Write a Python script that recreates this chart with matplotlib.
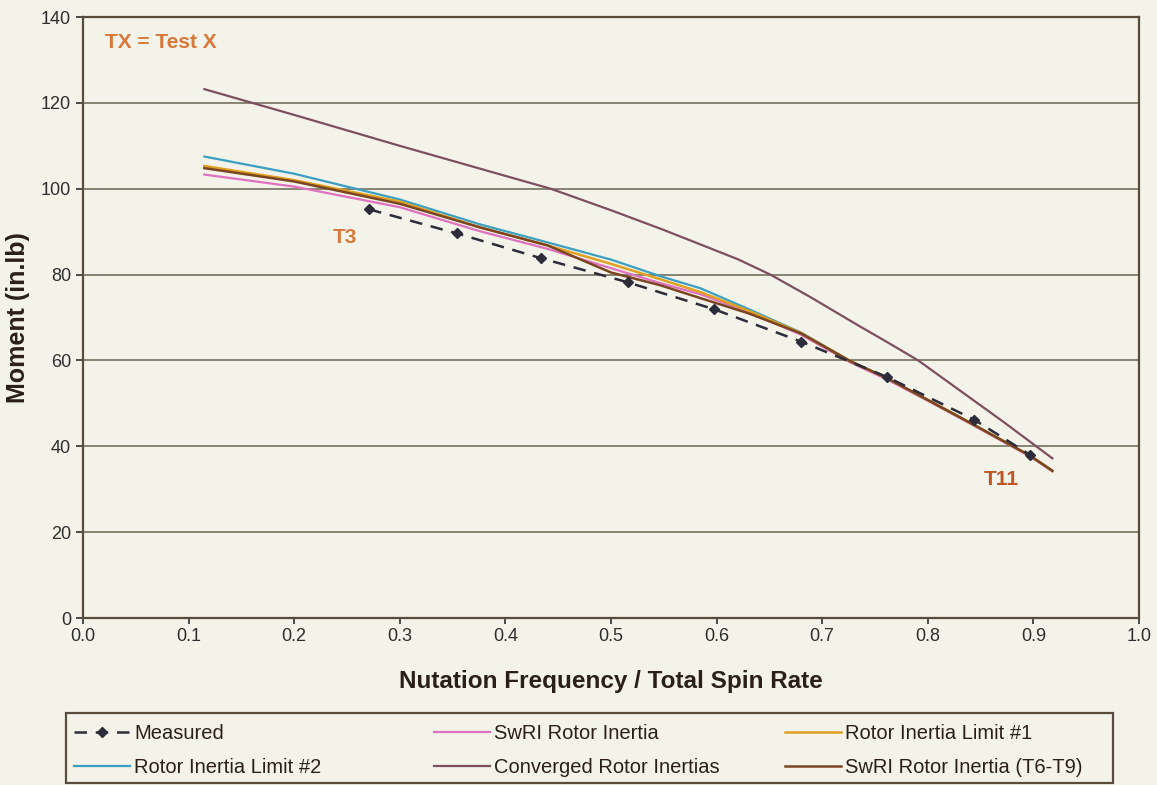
import matplotlib.pyplot as plt
from matplotlib.patches import Rectangle

plt.rcParams['font.family'] = ['Liberation Sans', 'DejaVu Sans']

# ---------- data ----------
meas_x = [0.271, 0.354, 0.434, 0.516, 0.598, 0.680, 0.761, 0.844, 0.897]
meas_y = [95.2, 89.6, 83.8, 78.2, 71.9, 64.4, 56.2, 46.2, 38.0]

model_x = [0.115, 0.2, 0.3, 0.376, 0.44, 0.5, 0.547, 0.585, 0.63, 0.68,
           0.727, 0.762, 0.8, 0.84, 0.897, 0.918]
limit2 = [107.5, 103.5, 97.5, 91.7, 87.5, 83.5, 79.6, 76.8, 72.0, 66.5,
          59.8, 55.8, 50.8, 45.5, 37.8, 34.3]
limit1 = [105.3, 102.0, 97.0, 91.0, 86.8, 82.5, 78.9, 75.9, 71.6, 66.4,
          59.8, 55.8, 50.8, 45.5, 37.8, 34.3]
swri = [103.3, 100.5, 95.7, 90.1, 86.0, 81.5, 78.0, 75.4, 71.3, 66.0,
        59.5, 55.5, 50.6, 45.3, 37.6, 34.2]
swri_t6t9 = [104.8, 101.7, 96.5, 91.0, 86.8, 80.5, 77.5, 74.5, 71.0, 66.3,
             59.8, 55.8, 50.8, 45.5, 37.8, 34.3]

conv_x = [0.115, 0.2, 0.3, 0.4, 0.443, 0.5, 0.55, 0.585, 0.62, 0.651, 0.69,
          0.736, 0.76, 0.791, 0.844, 0.87, 0.918]
converged = [123.2, 117.2, 110.0, 103.0, 100.0, 95.0, 90.4, 87.0, 83.6, 80.0, 74.6,
             67.9, 64.5, 60.0, 50.6, 46.0, 37.2]

x_ticks = [0.0, 0.1, 0.2, 0.3, 0.4, 0.5, 0.6, 0.7, 0.8, 0.9, 1.0]
y_ticks = [0, 20, 40, 60, 80, 100, 120, 140]

# ---------- plot ----------
bg = '#f3f3ea'
edge = '#5a4c3c'
fig = plt.figure(figsize=(11.57, 7.85), dpi=100, facecolor=bg)
ax = fig.add_axes([0.0717, 0.2127, 0.9127, 0.7656], facecolor=bg)

l_swri, = ax.plot(model_x, swri, color='#e070c0', lw=1.6)
l_lim2, = ax.plot(model_x, limit2, color='#3a9fc0', lw=1.6)
l_lim1, = ax.plot(model_x, limit1, color='#e0a020', lw=1.8)
l_t69, = ax.plot(model_x, swri_t6t9, color='#7a4520', lw=1.8)
l_conv, = ax.plot(conv_x, converged, color='#7e4f5e', lw=1.6)
l_meas, = ax.plot(meas_x, meas_y, color='#2c2c3a', lw=1.8, ls=(0, (5, 3.5)),
                  marker='D', ms=5.5)

ax.set_xlim(0, 1.0)
ax.set_ylim(0, 140)
ax.set_xticks(x_ticks)
ax.set_xticklabels([f'{v:.1f}' for v in x_ticks])
ax.set_yticks(y_ticks)
ax.tick_params(labelsize=13, colors='#2e2e2e', direction='out', length=5, width=1.2)
ax.tick_params(axis='x', length=4)
ax.grid(axis='y', color='#6b6552', lw=1.1)
ax.set_axisbelow(True)
for s in ax.spines.values():
    s.set_color(edge)
    s.set_linewidth(1.6)

ax.set_xlabel('Nutation Frequency / Total Spin Rate', fontsize=17.5, fontweight='bold',
              color='#2a2018', labelpad=18)
ax.set_ylabel('Moment (in.lb)', fontsize=18, fontweight='bold', color='#2a2018', labelpad=8)

ax.text(0.021, 134, 'TX = Test X', color='#d8783a', fontsize=15, fontweight='bold', va='center')
ax.text(0.248, 88.7, 'T3', color='#d8783a', fontsize=15, fontweight='bold', ha='center', va='center')
ax.text(0.870, 32.2, 'T11', color='#c05525', fontsize=15, fontweight='bold', ha='center', va='center')

# legend: frame plus three two-row columns
W, H = 1157.0, 785.0
fig.patches.append(Rectangle((66 / W, 1 - 783 / H), (1113 - 66) / W, (783 - 713) / H,
                             transform=fig.transFigure, facecolor='none',
                             edgecolor=edge, lw=1.6))
cols = [([l_meas, l_lim2], ['Measured', 'Rotor Inertia Limit #2'], 74),
        ([l_swri, l_conv], ['SwRI Rotor Inertia', 'Converged Rotor Inertias'], 434),
        ([l_lim1, l_t69], ['Rotor Inertia Limit #1', 'SwRI Rotor Inertia (T6-T9)'], 785)]
for hs, ls, px in cols:
    lg = fig.legend(hs, ls, loc='upper left', bbox_to_anchor=(px / W, 1 - 724 / H),
                    frameon=False, fontsize=14.5, handlelength=2.8, handletextpad=0.2,
                    borderpad=0, borderaxespad=0, labelspacing=0.75)
    for t in lg.get_texts():
        t.set_color('#2a2018')

fig.savefig('out.png', dpi=100, facecolor=bg)
